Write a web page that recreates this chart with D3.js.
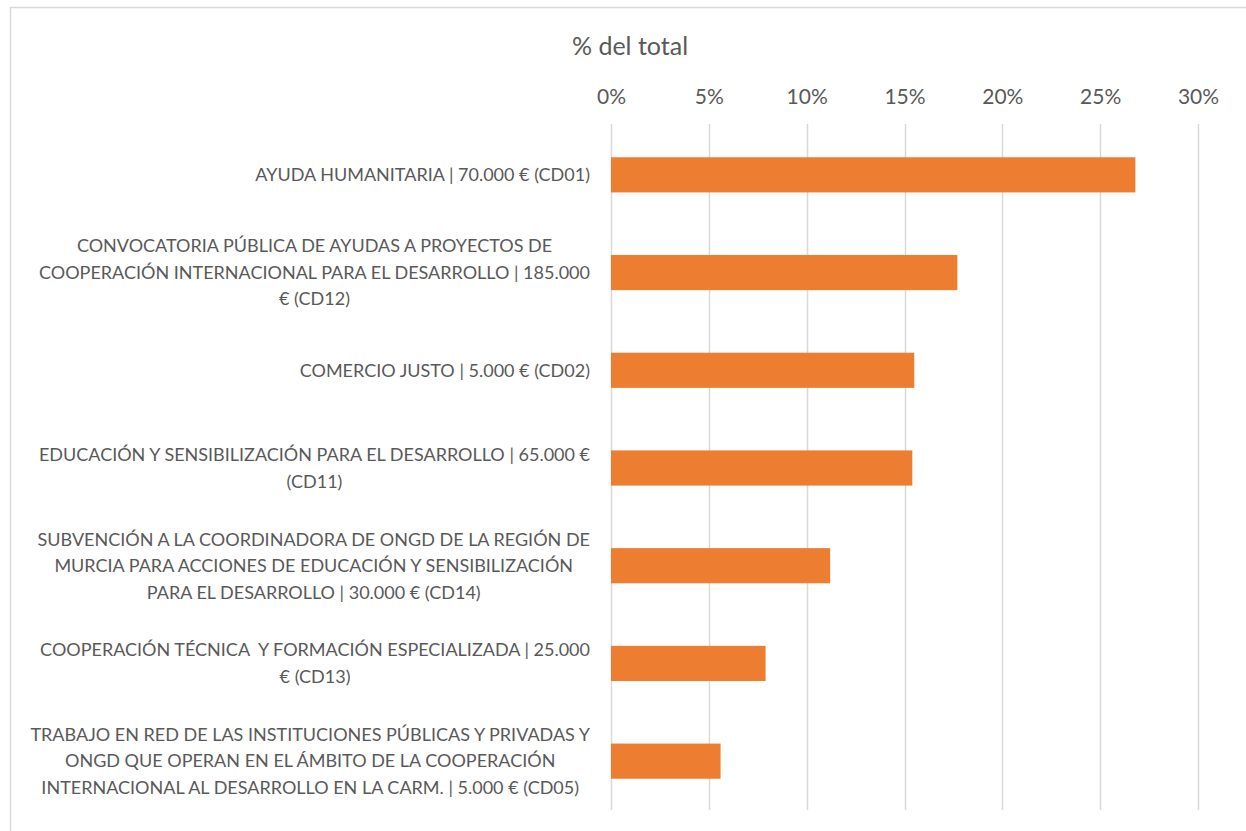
<!DOCTYPE html>
<html>
<head>
<meta charset="utf-8">
<script src="https://cdn.jsdelivr.net/npm/d3@7"></script>
<style>
  body { margin: 0; background: #fff; }
  text { font-family: Lato, "Open Sans", sans-serif; fill: #595959; white-space: pre; }
</style>
</head>
<body>
<div id="chart"></div>
<script>
// categories, top to bottom (line breaks as in the original labels)
var categories = [
    "AYUDA HUMANITARIA | 70.000 € (CD01)",
    "CONVOCATORIA PÚBLICA DE AYUDAS A PROYECTOS DE\nCOOPERACIÓN INTERNACIONAL PARA EL DESARROLLO | 185.000\n€ (CD12)",
    "COMERCIO JUSTO | 5.000 € (CD02)",
    "EDUCACIÓN Y SENSIBILIZACIÓN PARA EL DESARROLLO | 65.000 €\n(CD11)",
    "SUBVENCIÓN A LA COORDINADORA DE ONGD DE LA REGIÓN DE\nMURCIA PARA ACCIONES DE EDUCACIÓN Y SENSIBILIZACIÓN\nPARA EL DESARROLLO | 30.000 € (CD14)",
    "COOPERACIÓN TÉCNICA  Y FORMACIÓN ESPECIALIZADA | 25.000\n€ (CD13)",
    "TRABAJO EN RED DE LAS INSTITUCIONES PÚBLICAS Y PRIVADAS Y\nONGD QUE OPERAN EN EL ÁMBITO DE LA COOPERACIÓN\nINTERNACIONAL AL DESARROLLO EN LA CARM. | 5.000 € (CD05)"
];

// share of total, in %
var shares = [26.8, 17.7, 15.5, 15.4, 11.2, 7.9, 5.6];

var tickValues = [0, 5, 10, 15, 20, 25, 30];
var axisTitle = "% del total";

function init() {
    var w = 1246;
    var h = 831;
    var left = 611, right = 1198, top = 126, bottom = 810;

    var svg = d3.select("#chart")
        .append("svg")
        .attr("width", w)
        .attr("height", h);

    // chart border (only top and left visible in the frame)
    svg.append("rect")
        .attr("x", 10.5).attr("y", 7.5)
        .attr("width", 1300).attr("height", 900)
        .attr("fill", "none")
        .attr("stroke", "#d9d9d9")
        .attr("stroke-width", 1.5);

    var xScale = d3.scaleLinear()
        .domain([0, 30])
        .range([left, right]);

    var yScale = d3.scaleBand()
        .domain(categories)
        .range([top, bottom])
        .paddingInner(0.64)
        .paddingOuter(0.32);

    // gridlines
    svg.append("g")
        .selectAll("line")
        .data(tickValues)
        .enter()
        .append("line")
        .attr("x1", function(d) { return Math.round(xScale(d)) + 0.5; })
        .attr("x2", function(d) { return Math.round(xScale(d)) + 0.5; })
        .attr("y1", top - 2)
        .attr("y2", bottom)
        .attr("stroke", "#d9d9d9")
        .attr("stroke-width", 1.5);

    // top axis labels
    var xAxis = svg.append("g")
        .attr("transform", "translate(0,104)")
        .call(d3.axisTop(xScale)
            .tickValues(tickValues)
            .tickSize(0)
            .tickPadding(0)
            .tickFormat(function(d) { return d + "%"; }));
    xAxis.select(".domain").remove();
    xAxis.selectAll("text")
        .style("font-size", "21px")
        .style("font-family", "Lato, sans-serif")
        .attr("fill", "#595959");

    // axis title
    svg.append("text")
        .attr("x", 630)
        .attr("y", 55)
        .attr("text-anchor", "middle")
        .style("font-size", "25px")
        .text(axisTitle);

    // bars
    svg.append("g")
        .selectAll("rect")
        .data(shares)
        .enter()
        .append("rect")
        .attr("x", xScale(0))
        .attr("y", function(d, i) { return yScale(categories[i]); })
        .attr("width", function(d) { return xScale(d) - xScale(0); })
        .attr("height", yScale.bandwidth())
        .attr("fill", "#ed7d31");

    // category labels: block right-aligned to the axis, lines centred in block
    var lineH = 26.5;
    var labelRight = 590;
    var labels = svg.append("g")
        .selectAll("g")
        .data(categories)
        .enter()
        .append("g");

    labels.each(function(d) {
        var g = d3.select(this);
        var lines = d.split("\n");
        var cy = yScale(d) + yScale.bandwidth() / 2;
        var y0 = cy - (lines.length - 1) * lineH / 2;
        var txt = g.selectAll("text")
            .data(lines)
            .enter()
            .append("text")
            .attr("y", function(l, j) { return y0 + j * lineH; })
            .attr("dy", "0.35em")
            .attr("text-anchor", "middle")
            .style("font-size", "18px")
            .text(function(l) { return l; });
        var maxW = 0;
        txt.each(function() { maxW = Math.max(maxW, this.getComputedTextLength()); });
        txt.attr("x", labelRight - maxW / 2);
    });
}

window.onload = init;
</script>
</body>
</html>
